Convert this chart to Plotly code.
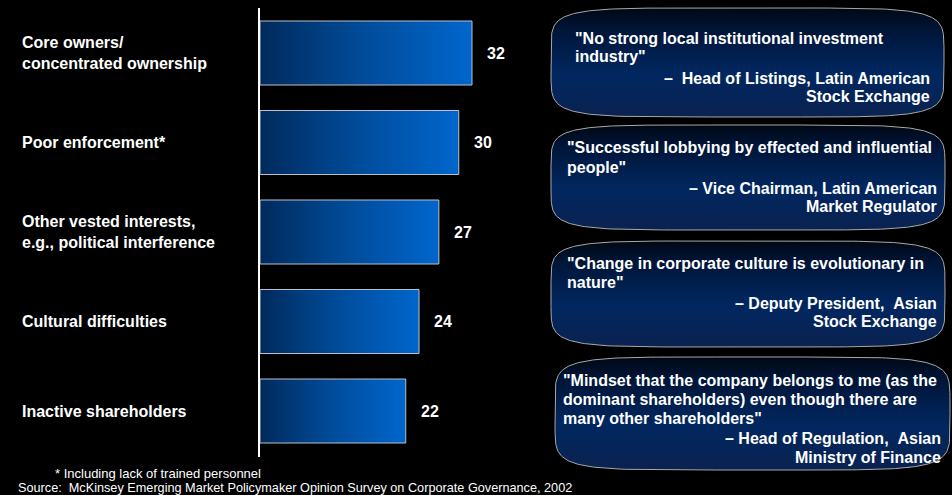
import numpy as np
import plotly.graph_objects as go

# ---- data -------------------------------------------------------------
categories = [
    "Core owners/<br>concentrated ownership",
    "Poor enforcement*",
    "Other vested interests,<br>e.g., political interference",
    "Cultural difficulties",
    "Inactive shareholders",
]
values = [32, 30, 27, 24, 22]

quotes = [
    ['"No strong local institutional investment', 'industry"'],
    ['"Successful lobbying by effected and influential', 'people"'],
    ['"Change in corporate culture is evolutionary in', 'nature"'],
    ['"Mindset that the company belongs to me (as the',
     'dominant shareholders) even though there are',
     'many other shareholders"'],
]
sources = [
    ['–&nbsp;&nbsp;Head of Listings, Latin American', 'Stock Exchange'],
    ['– Vice Chairman, Latin American', 'Market Regulator'],
    ['– Deputy President,&nbsp;&nbsp;Asian', 'Stock Exchange'],
    ['– Head of Regulation,&nbsp;&nbsp;Asian', 'Ministry of Finance'],
]
footnote = "* Including lack of trained personnel"
source_note = ("Source:&nbsp;&nbsp;McKinsey Emerging Market Policymaker Opinion Survey "
               "on Corporate Governance, 2002")

# ---- layout constants -------------------------------------------------
W, H = 952, 495
FONT = "Arial, Liberation Sans, Helvetica, sans-serif"
BAR_HALF = 0.3575
TXT = 16

fig = go.Figure()

# gradient-filled horizontal bars
for i, v in enumerate(values):
    fig.add_trace(go.Scatter(
        x=[0, v, v, 0, 0],
        y=[i - BAR_HALF, i - BAR_HALF, i + BAR_HALF, i + BAR_HALF, i - BAR_HALF],
        mode="lines",
        fill="toself",
        fillgradient=dict(type="horizontal",
                          colorscale=[[0, "#012a5c"], [0.5, "#004c9b"], [1, "#0066cc"]]),
        line=dict(color="#b9c0cc", width=1),
        hoverinfo="skip",
        showlegend=False,
        xaxis="x", yaxis="y",
    ))

# value labels
annotations = []
for i, v in enumerate(values):
    annotations.append(dict(
        x=v, y=i, xref="x", yref="y", text=f"<b>{v}</b>",
        showarrow=False, xanchor="left", yanchor="middle", xshift=13,
        font=dict(family=FONT, size=TXT, color="white"),
    ))

# category labels on the left
for i, c in enumerate(categories):
    annotations.append(dict(
        x=20 / W, y=i, xref="paper", yref="y", text=f"<b>{c}</b>",
        showarrow=False, xanchor="left", yanchor="middle", align="left",
        font=dict(family=FONT, size=TXT, color="white"),
    ))


# cushion-shaped quote boxes (superellipse outline), in pixel space
def cushion(x0, x1, y0, y1, n=6, pts=240):
    cx, cy = (x0 + x1) / 2, (y0 + y1) / 2
    a, b = (x1 - x0) / 2, (y1 - y0) / 2
    t = np.linspace(0, 2 * np.pi, pts)
    ct, st = np.cos(t), np.sin(t)
    xs = cx + a * np.sign(ct) * np.abs(ct) ** (2 / n)
    ys = cy + b * np.sign(st) * np.abs(st) ** (2 / n)
    return xs, ys


boxes = [(551, 944, 8, 117), (551, 945, 125, 230), (551, 945, 241, 347), (555, 950, 357, 470)]
quote_left = [573, 565, 565, 561]
source_right = [932, 939, 939, 943]
quote_lines_y = [[39, 57], [148, 168], [263, 282], [380, 399, 418]]
source_lines_y = [[78, 96], [188, 206], [303, 321], [438, 457]]

for k, (x0, x1, y0, y1) in enumerate(boxes):
    xs, ys = cushion(x0, x1, y0, y1)
    fig.add_trace(go.Scatter(
        x=xs, y=ys, mode="lines", fill="toself",
        fillgradient=dict(type="vertical",
                          colorscale=[[0, "#0a2250"], [0.4, "#012760"],
                                      [0.8, "#001538"], [1, "#000814"]]),
        line=dict(color="#a8a8a8", width=1),
        hoverinfo="skip", showlegend=False,
        xaxis="x2", yaxis="y2",
    ))
    for line, ly in zip(quotes[k], quote_lines_y[k]):
        annotations.append(dict(
            x=quote_left[k] / W, y=1 - ly / H, xref="paper", yref="paper",
            text=f"<b>{line}</b>", showarrow=False, xanchor="left", yanchor="middle",
            font=dict(family=FONT, size=TXT, color="white"),
        ))
    for line, ly in zip(sources[k], source_lines_y[k]):
        annotations.append(dict(
            x=source_right[k] / W, y=1 - ly / H, xref="paper", yref="paper",
            text=f"<b>{line}</b>", showarrow=False, xanchor="right", yanchor="middle",
            font=dict(family=FONT, size=TXT, color="white"),
        ))

# footnotes
annotations.append(dict(
    x=53 / W, y=1 - 473 / H, xref="paper", yref="paper", text=footnote,
    showarrow=False, xanchor="left", yanchor="middle",
    font=dict(family=FONT, size=13, color="white"),
))
annotations.append(dict(
    x=16 / W, y=1 - 488 / H, xref="paper", yref="paper", text=source_note,
    showarrow=False, xanchor="left", yanchor="middle",
    font=dict(family=FONT, size=12.7, color="white"),
))

# pixel -> data mapping for the bar axes
PX_PER_UNIT = 6.625
X_ORIGIN = 260
Y_FIRST, Y_STEP = 53, 89.5

fig.update_layout(
    width=W, height=H,
    margin=dict(l=0, r=0, t=0, b=0),
    paper_bgcolor="black", plot_bgcolor="black",
    xaxis=dict(range=[-X_ORIGIN / PX_PER_UNIT, (W - X_ORIGIN) / PX_PER_UNIT],
               visible=False, fixedrange=True, domain=[0, 1]),
    yaxis=dict(range=[(H - Y_FIRST) / Y_STEP, -Y_FIRST / Y_STEP],
               visible=False, fixedrange=True, domain=[0, 1]),
    xaxis2=dict(range=[0, W], visible=False, overlaying="x", anchor="y2", fixedrange=True),
    yaxis2=dict(range=[H, 0], visible=False, overlaying="y", anchor="x2", fixedrange=True),
    shapes=[dict(type="line", xref="x", yref="paper",
                 x0=-0.15, x1=-0.15, y0=1 - 8 / H, y1=1 - 457 / H,
                 line=dict(color="white", width=2))],
    annotations=annotations,
    showlegend=False,
)

fig.write_html("out.html", config={"displayModeBar": False})
